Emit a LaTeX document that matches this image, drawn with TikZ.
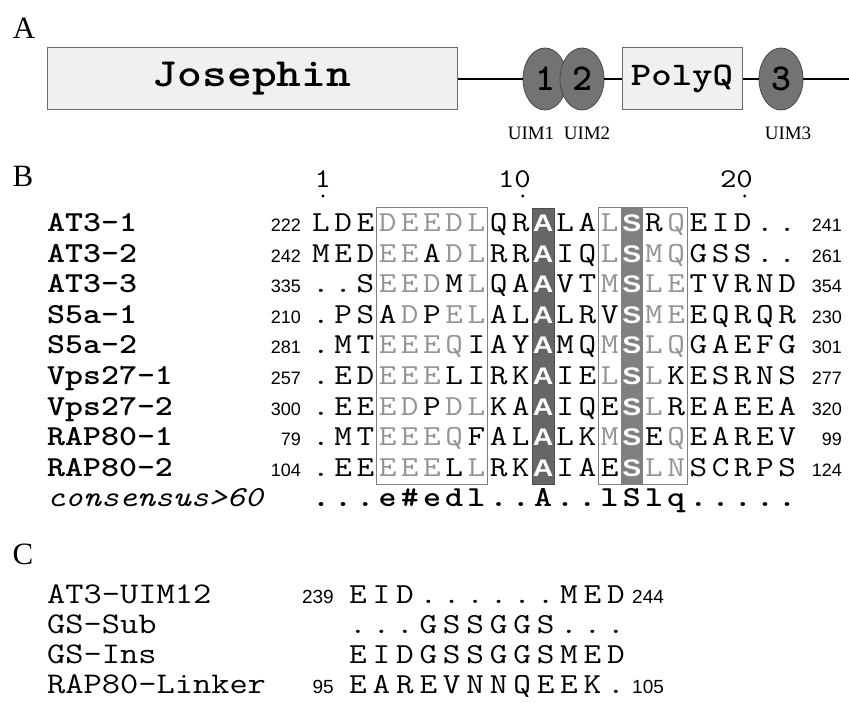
\documentclass[tikz,border=0pt]{standalone}
\usepackage{graphicx}
\usepackage{fontspec}
\setmainfont{Liberation Serif}
\newfontfamily\numfont{Liberation Sans}
\usetikzlibrary{shapes.geometric}

\definecolor{domfill}{gray}{0.94}
\definecolor{domline}{gray}{0.42}
\definecolor{uimfill}{gray}{0.45}
\definecolor{uimline}{gray}{0.3}
\definecolor{simgray}{gray}{0.58}
\definecolor{boxgray}{gray}{0.5}
\definecolor{idfill}{gray}{0.4}
\definecolor{idline}{gray}{0.3}
\definecolor{smfill}{gray}{0.5}

\newcommand{\stretchx}[1]{\scalebox{1.18}[1]{#1}}
\newcommand{\fs}[1]{\fontsize{#1}{#1}\selectfont}

\tikzset{
  panel/.style={font=\fs{31}, inner sep=0},
  dombox/.style={draw=domline, fill=domfill, line width=1pt, minimum height=62, inner sep=0, font=\ttfamily\bfseries\fs{40}},
  uim/.style={ellipse, draw=uimline, fill=uimfill, line width=0.8pt, minimum width=44, minimum height=62, inner sep=0, font=\ttfamily\bfseries\fs{38}},
  link/.style={line width=1.2pt},
  uimlabel/.style={font=\fs{19}, inner sep=0},
  ruler/.style={font=\ttfamily\fs{27}, anchor=base east, inner sep=0},
  seqname/.style={font=\ttfamily\bfseries\fs{29}, anchor=base west, inner sep=0},
  seqnum/.style={font=\numfont\fs{18}, anchor=base east, inner sep=0},
  endnum/.style={font=\numfont\fs{18}, anchor=base east, inner sep=0},
  resn/.style={font=\ttfamily\fs{29}, anchor=base, inner sep=0},
  resg/.style={resn, text=simgray},
  resw/.style={resn, font=\numfont\bfseries\fs{24}, text=white},
  resb/.style={resn, font=\ttfamily\bfseries\fs{29}},
  linkname/.style={font=\ttfamily\fs{30}, anchor=base west, inner sep=0},
  linknum/.style={font=\numfont\fs{19}, inner sep=0}
}

\newcommand{\seqrow}[6]{%
  \node[seqname] (name#1) at (47,#2+9) {\stretchx{#3}};
  \node[seqnum] (first#1) at (301,#2+9) {#4};
  \foreach \ch/\st [count=\k] in {#5}
    \node[res\st] (res#1-\k) at ({321+(\k-1)*22.2},#2+9) {\stretchx{\ch}};
  \node[endnum] (last#1) at (842,#2+9) {#6};
}

\begin{document}
\begin{tikzpicture}[x=1pt,y=-1pt]
\useasboundingbox (0,0) rectangle (849,703);

\node[panel] (labA) at (24,28) {A};
\node[dombox, minimum width=410] (josephin) at (252,79) {\stretchx{Josephin}};
\node[uim] (uim1) at (545,79) {1};
\node[uim] (uim2) at (582,79) {2};
\node[dombox, minimum width=120, font=\ttfamily\bfseries\fs{33}] (polyq) at (682,79) {\stretchx{PolyQ}};
\node[uim] (uim3) at (781,79) {3};
\coordinate (tail) at (849,79);
\draw[link] (josephin) -- (uim1);
\draw[link] (uim2) -- (polyq);
\draw[link] (polyq) -- (uim3);
\draw[link] (uim3) -- (tail);
\node[uimlabel] (lab1) at (531,133) {UIM1};
\node[uimlabel] (lab2) at (587,133) {UIM2};
\node[uimlabel] (lab3) at (788,133) {UIM3};

\node[panel] (labB) at (23,176) {B};
\foreach \lab/\k in {1/1,10/10,20/20} {
  \node[ruler] (tick\k) at ({323+(\k-1)*22.2+8.3},188) {\stretchx{\lab}};
  \fill ({323+(\k-1)*22.2},196) circle (1.6);
}
\fill[idfill] (531.9,208) rectangle (554.1,484);
\draw[idline, line width=0.8pt] (531.9,208) rectangle (554.1,484);
\fill[smfill] (620.7,208) rectangle (642.9,484);
\draw[boxgray, line width=1pt] (376.5,208) rectangle (487.5,484);
\draw[boxgray, line width=1pt] (598.5,208) rectangle (687.3,484);

\seqrow{1}{223}{AT3-1}{222}{L/n,D/n,E/n,D/g,E/g,E/g,D/g,L/g,Q/n,R/n,A/w,L/n,A/n,L/g,S/w,R/n,Q/g,E/n,I/n,D/n,./n,./n}{241}
\seqrow{2}{253.5}{AT3-2}{242}{M/n,E/n,D/n,E/g,E/g,A/n,D/g,L/g,R/n,R/n,A/w,I/n,Q/n,L/g,S/w,M/g,Q/g,G/n,S/n,S/n,./n,./n}{261}
\seqrow{3}{284}{AT3-3}{335}{./n,./n,S/n,E/g,E/g,D/g,M/n,L/g,Q/n,A/n,A/w,V/n,T/n,M/g,S/w,L/g,E/g,T/n,V/n,R/n,N/n,D/n}{354}
\seqrow{4}{314.5}{S5a-1}{210}{./n,P/n,S/n,A/n,D/g,P/n,E/g,L/g,A/n,L/n,A/w,L/n,R/n,V/n,S/w,M/g,E/g,E/n,Q/n,R/n,Q/n,R/n}{230}
\seqrow{5}{345}{S5a-2}{281}{./n,M/n,T/n,E/g,E/g,E/g,Q/g,I/n,A/n,Y/n,A/w,M/n,Q/n,M/g,S/w,L/g,Q/g,G/n,A/n,E/n,F/n,G/n}{301}
\seqrow{6}{375.5}{Vps27-1}{257}{./n,E/n,D/n,E/g,E/g,E/g,L/n,I/n,R/n,K/n,A/w,I/n,E/n,L/g,S/w,L/g,K/n,E/n,S/n,R/n,N/n,S/n}{277}
\seqrow{7}{406}{Vps27-2}{300}{./n,E/n,E/n,E/g,D/g,P/n,D/g,L/g,K/n,A/n,A/w,I/n,Q/n,E/n,S/w,L/g,R/n,E/n,A/n,E/n,E/n,A/n}{320}
\seqrow{8}{436.5}{RAP80-1}{79}{./n,M/n,T/n,E/g,E/g,E/g,Q/g,F/n,A/n,L/n,A/w,L/n,K/n,M/g,S/w,E/n,Q/g,E/n,A/n,R/n,E/n,V/n}{99}
\seqrow{9}{467}{RAP80-2}{104}{./n,E/n,E/n,E/g,E/g,E/g,L/n,L/g,R/n,K/n,A/w,I/n,A/n,E/n,S/w,L/g,N/g,S/n,C/n,R/n,P/n,S/n}{124}

\node[seqname, font=\ttfamily\itshape\fs{29}] (namecons) at (47,506.5) {\stretchx{consensus>60}};
\foreach \ch [count=\k] in {.,.,.,e,\#,e,d,l,.,.,A,.,.,l,S,l,q,.,.,.,.,.}
  \node[resb] (cons-\k) at ({321+(\k-1)*22.2},506.5) {\stretchx{\ch}};

\node[panel] (labC) at (23,554) {C};
\node[linkname] (uim12) at (47,603) {\stretchx{AT3-UIM12}};
\node[linknum, anchor=base east] (uim12a) at (334,603) {239};
\foreach \ch [count=\k] in {E,I,D,.,.,.,.,.,.,M,E,D}
  \node[resn] (uim12-\k) at ({358+(\k-1)*23.45},603) {\stretchx{\ch}};
\node[linknum, anchor=base west] (uim12b) at (632,603) {244};

\node[linkname] (gssub) at (47,633) {\stretchx{GS-Sub}};
\foreach \ch [count=\k] in {.,.,.,G,S,S,G,G,S,.,.,.}
  \node[resn] (gssub-\k) at ({358+(\k-1)*23.45},633) {\stretchx{\ch}};

\node[linkname] (gsins) at (47,663) {\stretchx{GS-Ins}};
\foreach \ch [count=\k] in {E,I,D,G,S,S,G,G,S,M,E,D}
  \node[resn] (gsins-\k) at ({358+(\k-1)*23.45},663) {\stretchx{\ch}};

\node[linkname] (rap) at (47,693) {\stretchx{RAP80-Linker}};
\node[linknum, anchor=base east] (rapa) at (334,693) {95};
\foreach \ch [count=\k] in {E,A,R,E,V,N,N,Q,E,E,K,.}
  \node[resn] (rap-\k) at ({358+(\k-1)*23.45},693) {\stretchx{\ch}};
\node[linknum, anchor=base west] (rapb) at (632,693) {105};
\end{tikzpicture}
\end{document}
